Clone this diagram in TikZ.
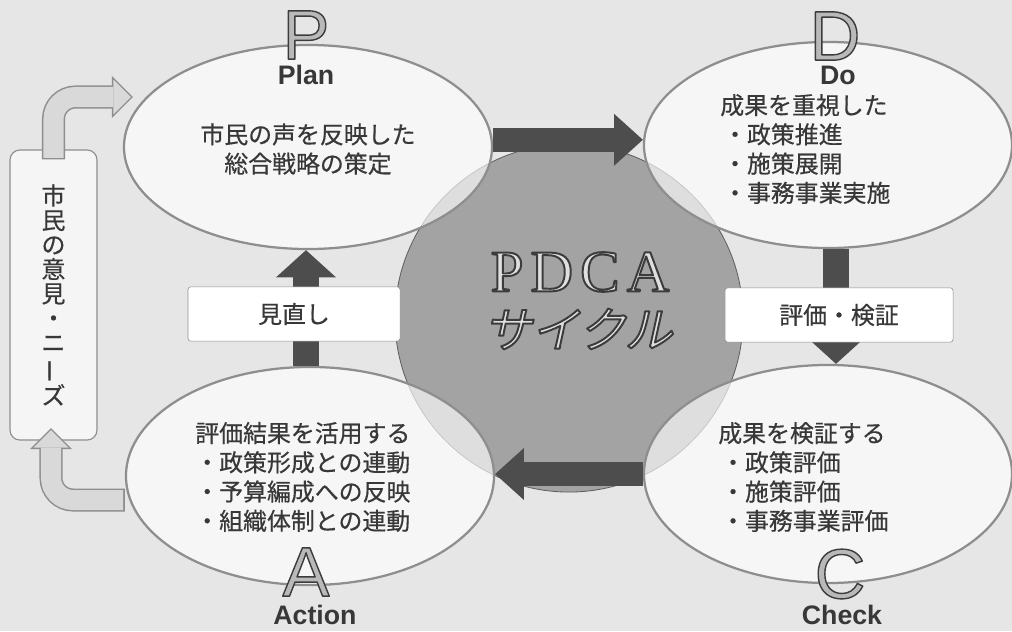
\documentclass[tikz,border=0pt]{standalone}
\usepackage{fontspec}
\usepackage{graphicx}
\setmainfont{Noto Sans CJK JP}[UprightFeatures={FakeBold=0.5}]
\newfontfamily\latinsans{Liberation Sans}
\newfontfamily\latinserif{Liberation Serif}
\newfontfamily\jpslant{Noto Sans CJK JP}[FakeSlant=0.22]
\usetikzlibrary{positioning, calc, shapes.geometric, arrows.meta}

\definecolor{bgcol}{HTML}{E6E6E6}
\definecolor{circlecol}{HTML}{A3A3A3}
\definecolor{darkcol}{HTML}{4D4D4D}
\definecolor{edgecol}{HTML}{8E8E8E}
\definecolor{textcol}{HTML}{383838}
\definecolor{lightcol}{HTML}{D9D9D9}

% 空心字: #1 描边线宽 (bp), #2 填充色, #3 文字
\newcommand\hollowtext[3]{\textcolor{#2}{%
  \special{pdf:literal direct 0.235 G #1 w 1 j 2 Tr}#3\special{pdf:literal direct 0 Tr}}}

\begin{document}
\begin{tikzpicture}[x=0.025cm, y=-0.025cm,
    % 定义样式
    phase/.style={ellipse, draw=edgecol, line width=1.6pt, fill=white, fill opacity=0.65, minimum width=9.2cm, inner sep=0pt},
    body/.style={text=textcol, font=\fontsize{17}{20.8}\selectfont, inner sep=0pt},
    tag/.style={body, draw=edgecol, fill=white, rounded corners=2pt, minimum height=1.36cm},
    letter/.style={font=\latinsans\fontsize{50}{50}\selectfont, inner sep=0pt},
    word/.style={text=textcol, font=\latinsans\bfseries\fontsize{19}{19}\selectfont, inner sep=0pt},
    bigarrow/.style={draw=darkcol, line width=0.6cm, -{Triangle[length=0.72cm, width=1.3cm, line width=0pt]}},
    vertarrow/.style={draw=darkcol, line width=0.65cm, -{Triangle[length=0.68cm, width=1.5cm, line width=0pt]}},
    lightline/.style={draw=edgecol, line width=0.575cm, rounded corners=0.55cm, -{Triangle[length=0.53cm, width=1.05cm, line width=0pt]}},
    lightfill/.style={draw=lightcol, line width=0.5cm, rounded corners=0.55cm, shorten >=0.053cm, shorten <=0.04cm, -{Triangle[length=0.435cm, width=0.87cm, line width=0pt]}}
]

% --- 背景 ---
\fill[bgcol] (0,0) rectangle (1012,631);
\useasboundingbox (0,0) rectangle (1012,631);

% --- 绘制节点 ---

% 1. 中央的圆 (PDCA)
\node[circle, fill=circlecol, draw=gray!75!black, line width=0.6pt, minimum size=8.7cm] (cycle) at (569,318) {};
\node[inner sep=0pt, font=\latinserif\fontsize{42}{42}\selectfont] (pdca) at (580,272)
    {\hollowtext{1.4}{gray!25}{P\kern.12em D\kern.12em C\kern.12em A}};
\node[inner sep=0pt, font=\jpslant\fontsize{34}{34}\selectfont] (cyclename) at (578,329)
    {\hollowtext{1.4}{gray!25}{サイクル}};

% 2. 四个阶段 (椭圆)
\node[phase, minimum height=5.1cm] (plan) at (308,147) {};
\node[phase, minimum height=5.15cm] (do) at (828,145) {};
\node[phase, minimum height=5.45cm] (check) at (828,474) {};
\node[phase, minimum height=5.45cm] (act) at (310,476) {};

% 3. 市民の意見・ニーズ
\node[draw=edgecol, line width=0.8pt, fill=gray!8, rounded corners=0.25cm, minimum width=2.175cm, minimum height=7.25cm] (needs) at (53.5,295) {};
\node[body, align=center, font=\fontsize{17}{17.4}\selectfont] (needstext) at (needs.center)
    {市\\民\\の\\意\\見\\・\\ニ\\\rotatebox[origin=c]{90}{ー}\\ズ};

% --- 绘制连接线 ---

% 市民 -> Plan, Action -> 市民
\coordinate (in1) at (133,97);
\coordinate (out1) at (51,428);
\draw[lightline] ([yshift=-0.25cm]needs.north) |- (in1);
\draw[lightfill] ([yshift=-0.25cm]needs.north) |- (in1);
\draw[lightline] ([yshift=-0.6cm]act.west) -| (out1);
\draw[lightfill] ([yshift=-0.6cm]act.west) -| (out1);

% P -> D -> C -> A -> P
\draw[bigarrow] ([yshift=0.18cm]plan.east) -- ([yshift=0.18cm]plan.east -| do.west);
\draw[vertarrow] ([xshift=0.2cm]do.south) -- ([xshift=0.2cm]check.north);
\draw[bigarrow] (check.west) -- (check.west -| act.east);
\draw[vertarrow] ([xshift=-0.1cm]act.north) -- ([xshift=-0.1cm]act.north |- plan.south);

\node[tag, minimum width=5.3cm] (revise) at (294,314) {見直し};
\node[tag, minimum width=5.7cm] (verify) at (839,315) {評価・検証};

% --- 文字 ---
\foreach \l/\w/\lx/\ly/\wx/\wy in {P/Plan/306/35/306/75, D/Do/835/36/838/75,
                                   C/Check/840/574/842/615, A/Action/306/572/315/615} {
    \node[letter] (L-\l) at (\lx,\ly) {\hollowtext{1}{gray!55}{\l}};
    \node[word] (W-\l) at (\wx,\wy) {\w};
}

\node[body, align=center] (plantext) at (308,149) {市民の声を反映した\\総合戦略の策定};
\node[body, align=left, anchor=west] (dotext) at (720,149)
    {成果を重視した\\\kern2pt・政策推進\\\kern2pt・施策展開\\\kern2pt・事務事業実施};
\node[body, align=left, anchor=west] (checktext) at (718,477)
    {成果を検証する\\\kern2pt・政策評価\\\kern2pt・施策評価\\\kern2pt・事務事業評価};
\node[body, align=left, anchor=west] (acttext) at (195,477)
    {評価結果を活用する\\・政策形成との連動\\・予算編成への反映\\・組織体制との連動};

\end{tikzpicture}
\end{document}
